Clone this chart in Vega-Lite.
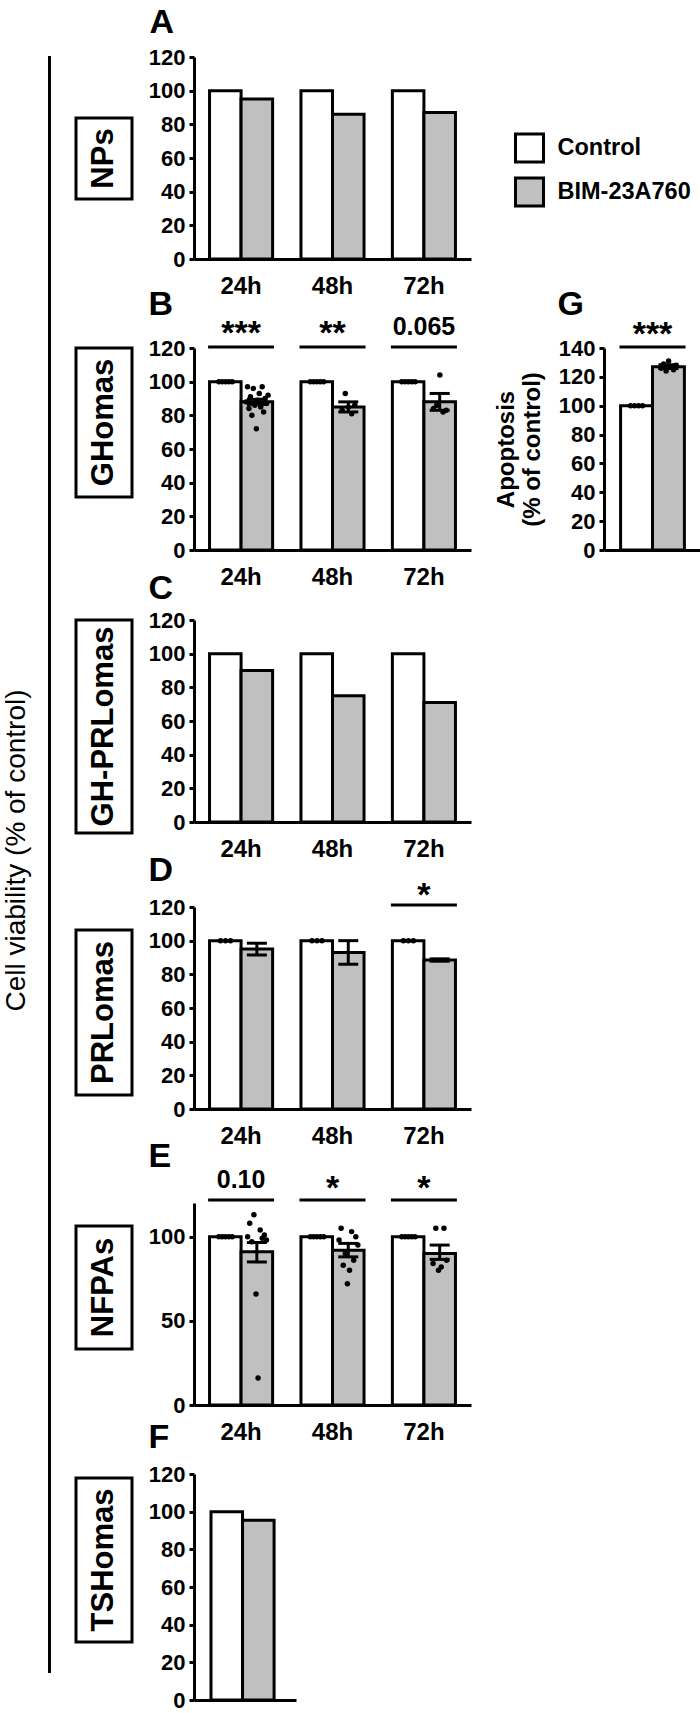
{
  "$schema": "https://vega.github.io/schema/vega-lite/v6.json",
  "padding": {"left": 1, "top": 5, "right": 0, "bottom": 0},
  "background": "white",
  "bounds": "flush",
  "spacing": 26,
  "config": {
    "font": "Liberation Sans",
    "view": {"stroke": null},
    "axis": {"domainColor": "black", "domainWidth": 3, "tickColor": "black", "tickWidth": 3, "tickSize": 5, "labelColor": "black", "labelFontWeight": "bold", "labelFontSize": 22, "grid": false, "titleColor": "black", "labelOverlap": false},
    "axisX": {"ticks": false, "labelFontSize": 24, "labelPadding": 15, "labelAngle": 0, "titleAngle": 0, "titleAlign": "left", "titleBaseline": "alphabetic", "titleFontSize": 34, "titleFontWeight": "bold"},
    "axisY": {"labelPadding": 4},
    "text": {"color": "black"}
  },
  "datasets": {
    "errB": [{"time": "24h", "group": "BIM-23A760", "lo": 86.5, "hi": 89.5}, {"time": "48h", "group": "BIM-23A760", "lo": 82, "hi": 88}, {"time": "72h", "group": "BIM-23A760", "lo": 83, "hi": 93}],
    "errD": [{"time": "24h", "group": "BIM-23A760", "lo": 91.5, "hi": 98.5}, {"time": "48h", "group": "BIM-23A760", "lo": 86, "hi": 100}, {"time": "72h", "group": "BIM-23A760", "lo": 87.8, "hi": 89.2}],
    "errE": [{"time": "24h", "group": "BIM-23A760", "lo": 85, "hi": 96.5}, {"time": "48h", "group": "BIM-23A760", "lo": 88, "hi": 96}, {"time": "72h", "group": "BIM-23A760", "lo": 86.5, "hi": 95}],
    "errG": [{"cat": "G", "group": "BIM-23A760", "lo": 125.8, "hi": 128.4}],
    "one": [{"v": 0}]
  },
  "hconcat": [
    {"width": 1, "height": 1615, "view": {"stroke": "black", "strokeWidth": 2}, "data": {"name": "one"}, "mark": {"type": "point", "opacity": 0},
     "encoding": {"y": {"field": "v", "type": "quantitative", "scale": {"domain": [0, 1]}, "axis": {"title": "Cell viability (% of control)", "labels": false, "ticks": false, "domain": false, "grid": false, "titleFontSize": 28, "titleFontWeight": "normal", "titlePadding": 19, "titleY": 793}}}},
    {
      "bounds": "flush", "columns": 4, "align": "each", "spacing": {"row": 0, "column": 43},
      "concat": [
        {"width": 75, "height": 202, "data": {"values": [{"t": "NPs"}]},
         "encoding": {"x": {"field": "t", "type": "nominal", "scale": {"type": "band", "paddingInner": 0, "paddingOuter": 0.1696, "align": 0}, "axis": null},
                      "y": {"field": "t", "type": "nominal", "scale": {"type": "band", "paddingInner": 0, "paddingOuter": 0.7469, "align": 0.5041}, "axis": null}},
         "layer": [{"mark": {"type": "rect", "fill": "white", "stroke": "black", "strokeWidth": 3}},
                   {"mark": {"type": "text", "angle": 270, "fontSize": 31, "fontWeight": "bold", "baseline": "middle"}, "encoding": {"text": {"field": "t"}}}]},
        {
          "width": 277, "height": 202,
          "data": {"values": [{"time": "24h", "group": "Control", "value": 100}, {"time": "24h", "group": "BIM-23A760", "value": 95}, {"time": "48h", "group": "Control", "value": 100}, {"time": "48h", "group": "BIM-23A760", "value": 86}, {"time": "72h", "group": "Control", "value": 100}, {"time": "72h", "group": "BIM-23A760", "value": 87}]},
          "mark": {"type": "bar", "stroke": "black", "strokeWidth": 3},
          "encoding": {
            "x": {"field": "time", "type": "nominal", "scale": {"domain": ["24h", "48h", "72h"], "paddingInner": 0.31, "paddingOuter": 0.17}, "axis": {"title": "A", "titleX": -45, "titleY": -227}},
            "xOffset": {"field": "group", "type": "nominal", "scale": {"domain": ["Control", "BIM-23A760"]}},
            "y": {"field": "value", "type": "quantitative", "scale": {"domain": [0, 120], "nice": false}, "axis": {"title": null, "values": [0, 20, 40, 60, 80, 100, 120]}},
            "fill": {"field": "group", "type": "nominal", "scale": {"domain": ["Control", "BIM-23A760"], "range": ["#ffffff", "#c0c0c0"]}, "legend": null}
          }
        },
        {"width": 31, "height": 176,
         "data": {"values": [{"group": "Control"}, {"group": "BIM-23A760"}]},
         "mark": {"type": "point", "shape": "square", "size": 784, "filled": true, "stroke": "black", "strokeWidth": 3, "opacity": 1, "fillOpacity": 1},
         "encoding": {
           "y": {"field": "group", "type": "nominal", "sort": ["Control", "BIM-23A760"], "scale": {"type": "band", "paddingInner": 0, "paddingOuter": 1, "align": 0.784}, "axis": {"orient": "right", "title": null, "domain": false, "ticks": false, "labelFontSize": 23.5, "labelPadding": 12}},
           "fill": {"field": "group", "type": "nominal", "scale": {"domain": ["Control", "BIM-23A760"], "range": ["#ffffff", "#c0c0c0"]}, "legend": null}
         }},
        {"width": 1, "height": 1, "data": {"name": "one"}, "mark": {"type": "point", "opacity": 0}},

        {"width": 1, "height": 89, "data": {"name": "one"}, "mark": {"type": "point", "opacity": 0}},
        {"width": 1, "height": 1, "data": {"name": "one"}, "mark": {"type": "point", "opacity": 0}},
        {"width": 1, "height": 1, "data": {"name": "one"}, "mark": {"type": "point", "opacity": 0}},
        {"width": 1, "height": 1, "data": {"name": "one"}, "mark": {"type": "point", "opacity": 0}},

        {"width": 75, "height": 202, "data": {"values": [{"t": "GHomas"}]},
         "encoding": {"x": {"field": "t", "type": "nominal", "scale": {"type": "band", "paddingInner": 0, "paddingOuter": 0.1696, "align": 0}, "axis": null},
                      "y": {"field": "t", "type": "nominal", "scale": {"type": "band", "paddingInner": 0, "paddingOuter": 0.1779, "align": 0}, "axis": null}},
         "layer": [{"mark": {"type": "rect", "fill": "white", "stroke": "black", "strokeWidth": 3}},
                   {"mark": {"type": "text", "angle": 270, "fontSize": 31, "fontWeight": "bold", "baseline": "middle"}, "encoding": {"text": {"field": "t"}}}]},
        {
          "width": 277, "height": 202,
          "layer": [
            {"data": {"values": [{"time": "24h", "group": "Control", "value": 100}, {"time": "24h", "group": "BIM-23A760", "value": 88}, {"time": "48h", "group": "Control", "value": 100}, {"time": "48h", "group": "BIM-23A760", "value": 85}, {"time": "72h", "group": "Control", "value": 100}, {"time": "72h", "group": "BIM-23A760", "value": 88}]},
             "mark": {"type": "bar", "stroke": "black", "strokeWidth": 3},
             "encoding": {
               "x": {"field": "time", "type": "nominal", "scale": {"domain": ["24h", "48h", "72h"], "paddingInner": 0.31, "paddingOuter": 0.17}, "axis": {"title": "B", "titleX": -46, "titleY": -236}},
               "xOffset": {"field": "group", "type": "nominal", "scale": {"domain": ["Control", "BIM-23A760"]}},
               "y": {"field": "value", "type": "quantitative", "scale": {"domain": [0, 120], "nice": false}, "axis": {"title": null, "values": [0, 20, 40, 60, 80, 100, 120], "labelOverlap": false, "tickCount": 7}},
               "fill": {"field": "group", "type": "nominal", "scale": {"domain": ["Control", "BIM-23A760"], "range": ["#ffffff", "#c0c0c0"]}, "legend": null}
             }},
            {"data": {"values": [{"time": "24h", "label": "***"}, {"time": "48h", "label": "**"}]},
             "mark": {"type": "text", "fontSize": 34, "fontWeight": "bold", "baseline": "alphabetic"},
             "encoding": {"x": {"field": "time", "type": "nominal"}, "y": {"datum": 122.4}, "text": {"field": "label"}}},
            {"data": {"values": [{"time": "72h", "label": "0.065"}]},
             "mark": {"type": "text", "fontSize": 25, "fontWeight": "bold", "baseline": "alphabetic"},
             "encoding": {"x": {"field": "time", "type": "nominal"}, "y": {"datum": 127.8}, "text": {"field": "label"}}},
            {"data": {"values": [{"time": "24h"}, {"time": "48h"}, {"time": "72h"}]},
             "mark": {"type": "tick", "orient": "horizontal", "size": 66, "thickness": 3, "color": "black", "opacity": 1},
             "encoding": {"x": {"field": "time", "type": "nominal"}, "y": {"datum": 120.6}}},
            {"data": {"values": [{"time": "24h", "rep": 1, "value": 100}, {"time": "24h", "rep": 2, "value": 100}, {"time": "24h", "rep": 3, "value": 100}, {"time": "24h", "rep": 4, "value": 100}, {"time": "24h", "rep": 5, "value": 100}, {"time": "48h", "rep": 1, "value": 100}, {"time": "48h", "rep": 2, "value": 100}, {"time": "48h", "rep": 3, "value": 100}, {"time": "48h", "rep": 4, "value": 100}, {"time": "48h", "rep": 5, "value": 100}, {"time": "72h", "rep": 1, "value": 100}, {"time": "72h", "rep": 2, "value": 100}, {"time": "72h", "rep": 3, "value": 100}, {"time": "72h", "rep": 4, "value": 100}, {"time": "72h", "rep": 5, "value": 100}]},
             "mark": {"type": "circle", "size": 30, "color": "black", "opacity": 1},
             "encoding": {"x": {"field": "time", "type": "nominal"}, "xOffset": {"field": "rep", "type": "quantitative", "scale": {"domain": [0, 6], "range": [6, 26], "zero": false, "nice": false}}, "y": {"field": "value", "type": "quantitative"}}},
            {"data": {"values": [{"time": "24h", "rep": 1, "value": 88}, {"time": "24h", "rep": 2, "value": 97}, {"time": "24h", "rep": 3, "value": 84}, {"time": "24h", "rep": 4, "value": 91}, {"time": "24h", "rep": 5, "value": 80}, {"time": "24h", "rep": 6, "value": 96}, {"time": "24h", "rep": 7, "value": 86}, {"time": "24h", "rep": 8, "value": 72}, {"time": "24h", "rep": 9, "value": 89}, {"time": "24h", "rep": 10, "value": 93}, {"time": "24h", "rep": 11, "value": 85}, {"time": "24h", "rep": 12, "value": 97}, {"time": "24h", "rep": 13, "value": 82}, {"time": "24h", "rep": 14, "value": 90}, {"time": "24h", "rep": 15, "value": 87}, {"time": "24h", "rep": 16, "value": 92}]},
             "mark": {"type": "circle", "size": 30, "color": "black", "opacity": 1},
             "encoding": {"x": {"field": "time", "type": "nominal"}, "xOffset": {"field": "rep", "type": "quantitative", "scale": {"domain": [0, 17], "range": [35, 60], "zero": false, "nice": false}}, "y": {"field": "value", "type": "quantitative"}}},
            {"data": {"values": [{"time": "48h", "rep": 1, "value": 83}, {"time": "48h", "rep": 2, "value": 93}, {"time": "48h", "rep": 3, "value": 85}, {"time": "48h", "rep": 4, "value": 81}, {"time": "48h", "rep": 5, "value": 86}, {"time": "72h", "rep": 1, "value": 84}, {"time": "72h", "rep": 2, "value": 86}, {"time": "72h", "rep": 3, "value": 104}, {"time": "72h", "rep": 4, "value": 82}, {"time": "72h", "rep": 5, "value": 83}]},
             "mark": {"type": "circle", "size": 30, "color": "black", "opacity": 1},
             "encoding": {"x": {"field": "time", "type": "nominal"}, "xOffset": {"field": "rep", "type": "quantitative", "scale": {"domain": [0, 6], "range": [38, 57], "zero": false, "nice": false}}, "y": {"field": "value", "type": "quantitative"}}},
            {"data": {"name": "errB"}, "mark": {"type": "rule", "strokeWidth": 3, "color": "black"},
             "encoding": {"x": {"field": "time", "type": "nominal"}, "xOffset": {"field": "group", "type": "nominal", "scale": {"domain": ["Control", "BIM-23A760"]}}, "y": {"field": "lo", "type": "quantitative"}, "y2": {"field": "hi"}}},
            {"data": {"name": "errB"}, "mark": {"type": "tick", "orient": "horizontal", "size": 20, "thickness": 3, "color": "black", "opacity": 1},
             "encoding": {"x": {"field": "time", "type": "nominal"}, "xOffset": {"field": "group", "type": "nominal", "scale": {"domain": ["Control", "BIM-23A760"]}}, "y": {"field": "lo", "type": "quantitative"}}},
            {"data": {"name": "errB"}, "mark": {"type": "tick", "orient": "horizontal", "size": 20, "thickness": 3, "color": "black", "opacity": 1},
             "encoding": {"x": {"field": "time", "type": "nominal"}, "xOffset": {"field": "group", "type": "nominal", "scale": {"domain": ["Control", "BIM-23A760"]}}, "y": {"field": "hi", "type": "quantitative"}}}
          ],
          "resolve": {"scale": {"xOffset": "independent"}}
        },
        {"width": 47, "height": 1, "data": {"name": "one"}, "mark": {"type": "point", "opacity": 0}},
        {
          "width": 97, "height": 202,
          "layer": [
            {"data": {"values": [{"cat": "G", "group": "Control", "value": 100}, {"cat": "G", "group": "BIM-23A760", "value": 127}]},
             "mark": {"type": "bar", "stroke": "black", "strokeWidth": 3},
             "encoding": {
               "x": {"field": "cat", "type": "nominal", "scale": {"paddingInner": 0, "paddingOuter": 0.26}, "axis": {"labels": false, "title": "G", "titleX": -47, "titleY": -236}},
               "xOffset": {"field": "group", "type": "nominal", "scale": {"domain": ["Control", "BIM-23A760"]}},
               "y": {"field": "value", "type": "quantitative", "scale": {"domain": [0, 140], "nice": false}, "axis": {"values": [0, 20, 40, 60, 80, 100, 120, 140], "labelOverlap": false, "tickCount": 8, "title": ["Apoptosis", "(% of control)"], "titleFontSize": 24, "titleFontWeight": "bold", "titlePadding": 14}},
               "fill": {"field": "group", "type": "nominal", "scale": {"domain": ["Control", "BIM-23A760"], "range": ["#ffffff", "#c0c0c0"]}, "legend": null}
             }},
            {"data": {"values": [{"cat": "G", "label": "***"}]},
             "mark": {"type": "text", "fontSize": 34, "fontWeight": "bold", "baseline": "alphabetic"},
             "encoding": {"x": {"field": "cat", "type": "nominal"}, "y": {"datum": 142.1}, "text": {"field": "label"}}},
            {"data": {"values": [{"cat": "G"}]},
             "mark": {"type": "tick", "orient": "horizontal", "size": 66, "thickness": 3, "color": "black", "opacity": 1},
             "encoding": {"x": {"field": "cat", "type": "nominal"}, "y": {"datum": 140.7}}},
            {"data": {"values": [{"cat": "G", "rep": 1, "value": 100}, {"cat": "G", "rep": 2, "value": 100}, {"cat": "G", "rep": 3, "value": 100}, {"cat": "G", "rep": 4, "value": 100}]},
             "mark": {"type": "circle", "size": 30, "color": "black", "opacity": 1},
             "encoding": {"x": {"field": "cat", "type": "nominal"}, "xOffset": {"field": "rep", "type": "quantitative", "scale": {"domain": [0, 5], "range": [6, 26], "zero": false, "nice": false}}, "y": {"field": "value", "type": "quantitative"}}},
            {"data": {"values": [{"cat": "G", "rep": 1, "value": 126}, {"cat": "G", "rep": 2, "value": 129}, {"cat": "G", "rep": 3, "value": 124}, {"cat": "G", "rep": 4, "value": 131}, {"cat": "G", "rep": 5, "value": 127}, {"cat": "G", "rep": 6, "value": 125}, {"cat": "G", "rep": 7, "value": 128}]},
             "mark": {"type": "circle", "size": 30, "color": "black", "opacity": 1},
             "encoding": {"x": {"field": "cat", "type": "nominal"}, "xOffset": {"field": "rep", "type": "quantitative", "scale": {"domain": [0, 8], "range": [38, 58], "zero": false, "nice": false}}, "y": {"field": "value", "type": "quantitative"}}},
            {"data": {"name": "errG"}, "mark": {"type": "rule", "strokeWidth": 3, "color": "black"},
             "encoding": {"x": {"field": "cat", "type": "nominal"}, "xOffset": {"field": "group", "type": "nominal", "scale": {"domain": ["Control", "BIM-23A760"]}}, "y": {"field": "lo", "type": "quantitative"}, "y2": {"field": "hi"}}},
            {"data": {"name": "errG"}, "mark": {"type": "tick", "orient": "horizontal", "size": 20, "thickness": 3, "color": "black", "opacity": 1},
             "encoding": {"x": {"field": "cat", "type": "nominal"}, "xOffset": {"field": "group", "type": "nominal", "scale": {"domain": ["Control", "BIM-23A760"]}}, "y": {"field": "lo", "type": "quantitative"}}},
            {"data": {"name": "errG"}, "mark": {"type": "tick", "orient": "horizontal", "size": 20, "thickness": 3, "color": "black", "opacity": 1},
             "encoding": {"x": {"field": "cat", "type": "nominal"}, "xOffset": {"field": "group", "type": "nominal", "scale": {"domain": ["Control", "BIM-23A760"]}}, "y": {"field": "hi", "type": "quantitative"}}}
          ],
          "resolve": {"scale": {"xOffset": "independent"}}
        },

        {"width": 1, "height": 70, "data": {"name": "one"}, "mark": {"type": "point", "opacity": 0}},
        {"width": 1, "height": 1, "data": {"name": "one"}, "mark": {"type": "point", "opacity": 0}},
        {"width": 1, "height": 1, "data": {"name": "one"}, "mark": {"type": "point", "opacity": 0}},
        {"width": 1, "height": 1, "data": {"name": "one"}, "mark": {"type": "point", "opacity": 0}},

        {"width": 75, "height": 213, "data": {"values": [{"t": "GH-PRLomas"}]},
         "encoding": {"x": {"field": "t", "type": "nominal", "scale": {"type": "band", "paddingInner": 0, "paddingOuter": 0.1696, "align": 0}, "axis": null},
                      "y": {"field": "t", "type": "nominal", "scale": {"type": "band", "paddingInner": 0, "paddingOuter": 0, "align": 0}, "axis": null}},
         "layer": [{"mark": {"type": "rect", "fill": "white", "stroke": "black", "strokeWidth": 3}},
                   {"mark": {"type": "text", "angle": 270, "fontSize": 31, "fontWeight": "bold", "baseline": "middle"}, "encoding": {"text": {"field": "t"}}}]},
        {
          "width": 277, "height": 202,
          "data": {"values": [{"time": "24h", "group": "Control", "value": 100}, {"time": "24h", "group": "BIM-23A760", "value": 90}, {"time": "48h", "group": "Control", "value": 100}, {"time": "48h", "group": "BIM-23A760", "value": 75}, {"time": "72h", "group": "Control", "value": 100}, {"time": "72h", "group": "BIM-23A760", "value": 71}]},
          "mark": {"type": "bar", "stroke": "black", "strokeWidth": 3},
          "encoding": {
            "x": {"field": "time", "type": "nominal", "scale": {"domain": ["24h", "48h", "72h"], "paddingInner": 0.31, "paddingOuter": 0.17}, "axis": {"title": "C", "titleX": -46, "titleY": -224}},
            "xOffset": {"field": "group", "type": "nominal", "scale": {"domain": ["Control", "BIM-23A760"]}},
            "y": {"field": "value", "type": "quantitative", "scale": {"domain": [0, 120], "nice": false}, "axis": {"title": null, "values": [0, 20, 40, 60, 80, 100, 120]}},
            "fill": {"field": "group", "type": "nominal", "scale": {"domain": ["Control", "BIM-23A760"], "range": ["#ffffff", "#c0c0c0"]}, "legend": null}
          }
        },
        {"width": 1, "height": 1, "data": {"name": "one"}, "mark": {"type": "point", "opacity": 0}},
        {"width": 1, "height": 1, "data": {"name": "one"}, "mark": {"type": "point", "opacity": 0}},

        {"width": 1, "height": 74, "data": {"name": "one"}, "mark": {"type": "point", "opacity": 0}},
        {"width": 1, "height": 1, "data": {"name": "one"}, "mark": {"type": "point", "opacity": 0}},
        {"width": 1, "height": 1, "data": {"name": "one"}, "mark": {"type": "point", "opacity": 0}},
        {"width": 1, "height": 1, "data": {"name": "one"}, "mark": {"type": "point", "opacity": 0}},

        {"width": 75, "height": 202, "data": {"values": [{"t": "PRLomas"}]},
         "encoding": {"x": {"field": "t", "type": "nominal", "scale": {"type": "band", "paddingInner": 0, "paddingOuter": 0.1696, "align": 0}, "axis": null},
                      "y": {"field": "t", "type": "nominal", "scale": {"type": "band", "paddingInner": 0, "paddingOuter": 0.1121, "align": 0.6216}, "axis": null}},
         "layer": [{"mark": {"type": "rect", "fill": "white", "stroke": "black", "strokeWidth": 3}},
                   {"mark": {"type": "text", "angle": 270, "fontSize": 31, "fontWeight": "bold", "baseline": "middle"}, "encoding": {"text": {"field": "t"}}}]},
        {
          "width": 277, "height": 202,
          "layer": [
            {"data": {"values": [{"time": "24h", "group": "Control", "value": 100}, {"time": "24h", "group": "BIM-23A760", "value": 95}, {"time": "48h", "group": "Control", "value": 100}, {"time": "48h", "group": "BIM-23A760", "value": 93}, {"time": "72h", "group": "Control", "value": 100}, {"time": "72h", "group": "BIM-23A760", "value": 88.5}]},
             "mark": {"type": "bar", "stroke": "black", "strokeWidth": 3},
             "encoding": {
               "x": {"field": "time", "type": "nominal", "scale": {"domain": ["24h", "48h", "72h"], "paddingInner": 0.31, "paddingOuter": 0.17}, "axis": {"title": "D", "titleX": -46, "titleY": -229}},
               "xOffset": {"field": "group", "type": "nominal", "scale": {"domain": ["Control", "BIM-23A760"]}},
               "y": {"field": "value", "type": "quantitative", "scale": {"domain": [0, 120], "nice": false}, "axis": {"title": null, "values": [0, 20, 40, 60, 80, 100, 120], "labelOverlap": false, "tickCount": 7}},
               "fill": {"field": "group", "type": "nominal", "scale": {"domain": ["Control", "BIM-23A760"], "range": ["#ffffff", "#c0c0c0"]}, "legend": null}
             }},
            {"data": {"values": [{"time": "72h", "label": "*"}]},
             "mark": {"type": "text", "fontSize": 34, "fontWeight": "bold", "baseline": "alphabetic"},
             "encoding": {"x": {"field": "time", "type": "nominal"}, "y": {"datum": 120.6}, "text": {"field": "label"}}},
            {"data": {"values": [{"time": "72h"}]},
             "mark": {"type": "tick", "orient": "horizontal", "size": 66, "thickness": 3, "color": "black", "opacity": 1},
             "encoding": {"x": {"field": "time", "type": "nominal"}, "y": {"datum": 121.2}}},
            {"data": {"values": [{"time": "24h", "rep": 1, "value": 100}, {"time": "24h", "rep": 2, "value": 100}, {"time": "24h", "rep": 3, "value": 100}, {"time": "48h", "rep": 1, "value": 100}, {"time": "48h", "rep": 2, "value": 100}, {"time": "48h", "rep": 3, "value": 100}, {"time": "72h", "rep": 1, "value": 100}, {"time": "72h", "rep": 2, "value": 100}, {"time": "72h", "rep": 3, "value": 100}]},
             "mark": {"type": "circle", "size": 30, "color": "black", "opacity": 1},
             "encoding": {"x": {"field": "time", "type": "nominal"}, "xOffset": {"field": "rep", "type": "quantitative", "scale": {"domain": [0, 4], "range": [6, 26], "zero": false, "nice": false}}, "y": {"field": "value", "type": "quantitative"}}},
            {"data": {"name": "errD"}, "mark": {"type": "rule", "strokeWidth": 3, "color": "black"},
             "encoding": {"x": {"field": "time", "type": "nominal"}, "xOffset": {"field": "group", "type": "nominal", "scale": {"domain": ["Control", "BIM-23A760"]}}, "y": {"field": "lo", "type": "quantitative"}, "y2": {"field": "hi"}}},
            {"data": {"name": "errD"}, "mark": {"type": "tick", "orient": "horizontal", "size": 20, "thickness": 3, "color": "black", "opacity": 1},
             "encoding": {"x": {"field": "time", "type": "nominal"}, "xOffset": {"field": "group", "type": "nominal", "scale": {"domain": ["Control", "BIM-23A760"]}}, "y": {"field": "lo", "type": "quantitative"}}},
            {"data": {"name": "errD"}, "mark": {"type": "tick", "orient": "horizontal", "size": 20, "thickness": 3, "color": "black", "opacity": 1},
             "encoding": {"x": {"field": "time", "type": "nominal"}, "xOffset": {"field": "group", "type": "nominal", "scale": {"domain": ["Control", "BIM-23A760"]}}, "y": {"field": "hi", "type": "quantitative"}}}
          ],
          "resolve": {"scale": {"xOffset": "independent"}}
        },
        {"width": 1, "height": 1, "data": {"name": "one"}, "mark": {"type": "point", "opacity": 0}},
        {"width": 1, "height": 1, "data": {"name": "one"}, "mark": {"type": "point", "opacity": 0}},

        {"width": 1, "height": 94, "data": {"name": "one"}, "mark": {"type": "point", "opacity": 0}},
        {"width": 1, "height": 1, "data": {"name": "one"}, "mark": {"type": "point", "opacity": 0}},
        {"width": 1, "height": 1, "data": {"name": "one"}, "mark": {"type": "point", "opacity": 0}},
        {"width": 1, "height": 1, "data": {"name": "one"}, "mark": {"type": "point", "opacity": 0}},

        {"width": 75, "height": 202, "data": {"values": [{"t": "NFPAs"}]},
         "encoding": {"x": {"field": "t", "type": "nominal", "scale": {"type": "band", "paddingInner": 0, "paddingOuter": 0.1696, "align": 0}, "axis": null},
                      "y": {"field": "t", "type": "nominal", "scale": {"type": "band", "paddingInner": 0, "paddingOuter": 0.3211, "align": 0.2911}, "axis": null}},
         "layer": [{"mark": {"type": "rect", "fill": "white", "stroke": "black", "strokeWidth": 3}},
                   {"mark": {"type": "text", "angle": 270, "fontSize": 31, "fontWeight": "bold", "baseline": "middle"}, "encoding": {"text": {"field": "t"}}}]},
        {
          "width": 277, "height": 202,
          "layer": [
            {"data": {"values": [{"time": "24h", "group": "Control", "value": 100}, {"time": "24h", "group": "BIM-23A760", "value": 91}, {"time": "48h", "group": "Control", "value": 100}, {"time": "48h", "group": "BIM-23A760", "value": 92}, {"time": "72h", "group": "Control", "value": 100}, {"time": "72h", "group": "BIM-23A760", "value": 90}]},
             "mark": {"type": "bar", "stroke": "black", "strokeWidth": 3},
             "encoding": {
               "x": {"field": "time", "type": "nominal", "scale": {"domain": ["24h", "48h", "72h"], "paddingInner": 0.31, "paddingOuter": 0.17}, "axis": {"title": "E", "titleX": -46, "titleY": -239}},
               "xOffset": {"field": "group", "type": "nominal", "scale": {"domain": ["Control", "BIM-23A760"]}},
               "y": {"field": "value", "type": "quantitative", "scale": {"domain": [0, 120], "nice": false}, "axis": {"title": null, "values": [0, 50, 100], "labelOverlap": false}},
               "fill": {"field": "group", "type": "nominal", "scale": {"domain": ["Control", "BIM-23A760"], "range": ["#ffffff", "#c0c0c0"]}, "legend": null}
             }},
            {"data": {"values": [{"time": "24h", "label": "0.10"}]},
             "mark": {"type": "text", "fontSize": 25, "fontWeight": "bold", "baseline": "alphabetic"},
             "encoding": {"x": {"field": "time", "type": "nominal"}, "y": {"datum": 129}, "text": {"field": "label"}}},
            {"data": {"values": [{"time": "48h", "label": "*"}, {"time": "72h", "label": "*"}]},
             "mark": {"type": "text", "fontSize": 34, "fontWeight": "bold", "baseline": "alphabetic"},
             "encoding": {"x": {"field": "time", "type": "nominal"}, "y": {"datum": 122.4}, "text": {"field": "label"}}},
            {"data": {"values": [{"time": "24h"}, {"time": "48h"}, {"time": "72h"}]},
             "mark": {"type": "tick", "orient": "horizontal", "size": 66, "thickness": 3, "color": "black", "opacity": 1},
             "encoding": {"x": {"field": "time", "type": "nominal"}, "y": {"datum": 121.8}}},
            {"data": {"values": [{"time": "24h", "rep": 1, "value": 100}, {"time": "24h", "rep": 2, "value": 100}, {"time": "24h", "rep": 3, "value": 100}, {"time": "24h", "rep": 4, "value": 100}, {"time": "24h", "rep": 5, "value": 100}, {"time": "48h", "rep": 1, "value": 100}, {"time": "48h", "rep": 2, "value": 100}, {"time": "48h", "rep": 3, "value": 100}, {"time": "48h", "rep": 4, "value": 100}, {"time": "48h", "rep": 5, "value": 100}, {"time": "72h", "rep": 1, "value": 100}, {"time": "72h", "rep": 2, "value": 100}, {"time": "72h", "rep": 3, "value": 100}, {"time": "72h", "rep": 4, "value": 100}, {"time": "72h", "rep": 5, "value": 100}]},
             "mark": {"type": "circle", "size": 30, "color": "black", "opacity": 1},
             "encoding": {"x": {"field": "time", "type": "nominal"}, "xOffset": {"field": "rep", "type": "quantitative", "scale": {"domain": [0, 6], "range": [6, 26], "zero": false, "nice": false}}, "y": {"field": "value", "type": "quantitative"}}},
            {"data": {"values": [{"time": "24h", "rep": 1, "value": 100}, {"time": "24h", "rep": 2, "value": 108}, {"time": "24h", "rep": 3, "value": 97}, {"time": "24h", "rep": 4, "value": 113}, {"time": "24h", "rep": 5, "value": 66}, {"time": "24h", "rep": 6, "value": 16}, {"time": "24h", "rep": 7, "value": 104}, {"time": "24h", "rep": 8, "value": 99}, {"time": "24h", "rep": 9, "value": 101}, {"time": "24h", "rep": 10, "value": 98}, {"time": "48h", "rep": 1, "value": 98}, {"time": "48h", "rep": 2, "value": 105}, {"time": "48h", "rep": 3, "value": 83}, {"time": "48h", "rep": 4, "value": 90}, {"time": "48h", "rep": 5, "value": 72}, {"time": "48h", "rep": 6, "value": 80}, {"time": "48h", "rep": 7, "value": 103}, {"time": "48h", "rep": 8, "value": 86}, {"time": "48h", "rep": 9, "value": 100}, {"time": "48h", "rep": 10, "value": 95}]},
             "mark": {"type": "circle", "size": 30, "color": "black", "opacity": 1},
             "encoding": {"x": {"field": "time", "type": "nominal"}, "xOffset": {"field": "rep", "type": "quantitative", "scale": {"domain": [0, 11], "range": [36, 59], "zero": false, "nice": false}}, "y": {"field": "value", "type": "quantitative"}}},
            {"data": {"values": [{"time": "72h", "rep": 1, "value": 84}, {"time": "72h", "rep": 2, "value": 105}, {"time": "72h", "rep": 3, "value": 80}, {"time": "72h", "rep": 4, "value": 82}, {"time": "72h", "rep": 5, "value": 105}, {"time": "72h", "rep": 6, "value": 86}]},
             "mark": {"type": "circle", "size": 30, "color": "black", "opacity": 1},
             "encoding": {"x": {"field": "time", "type": "nominal"}, "xOffset": {"field": "rep", "type": "quantitative", "scale": {"domain": [0, 7], "range": [38, 57], "zero": false, "nice": false}}, "y": {"field": "value", "type": "quantitative"}}},
            {"data": {"name": "errE"}, "mark": {"type": "rule", "strokeWidth": 3, "color": "black"},
             "encoding": {"x": {"field": "time", "type": "nominal"}, "xOffset": {"field": "group", "type": "nominal", "scale": {"domain": ["Control", "BIM-23A760"]}}, "y": {"field": "lo", "type": "quantitative"}, "y2": {"field": "hi"}}},
            {"data": {"name": "errE"}, "mark": {"type": "tick", "orient": "horizontal", "size": 20, "thickness": 3, "color": "black", "opacity": 1},
             "encoding": {"x": {"field": "time", "type": "nominal"}, "xOffset": {"field": "group", "type": "nominal", "scale": {"domain": ["Control", "BIM-23A760"]}}, "y": {"field": "lo", "type": "quantitative"}}},
            {"data": {"name": "errE"}, "mark": {"type": "tick", "orient": "horizontal", "size": 20, "thickness": 3, "color": "black", "opacity": 1},
             "encoding": {"x": {"field": "time", "type": "nominal"}, "xOffset": {"field": "group", "type": "nominal", "scale": {"domain": ["Control", "BIM-23A760"]}}, "y": {"field": "hi", "type": "quantitative"}}}
          ],
          "resolve": {"scale": {"xOffset": "independent"}}
        },
        {"width": 1, "height": 1, "data": {"name": "one"}, "mark": {"type": "point", "opacity": 0}},
        {"width": 1, "height": 1, "data": {"name": "one"}, "mark": {"type": "point", "opacity": 0}},

        {"width": 1, "height": 69, "data": {"name": "one"}, "mark": {"type": "point", "opacity": 0}},
        {"width": 1, "height": 1, "data": {"name": "one"}, "mark": {"type": "point", "opacity": 0}},
        {"width": 1, "height": 1, "data": {"name": "one"}, "mark": {"type": "point", "opacity": 0}},
        {"width": 1, "height": 1, "data": {"name": "one"}, "mark": {"type": "point", "opacity": 0}},

        {"width": 75, "height": 226, "data": {"values": [{"t": "TSHomas"}]},
         "encoding": {"x": {"field": "t", "type": "nominal", "scale": {"type": "band", "paddingInner": 0, "paddingOuter": 0.1696, "align": 0}, "axis": null},
                      "y": {"field": "t", "type": "nominal", "scale": {"type": "band", "paddingInner": 0, "paddingOuter": 0.189, "align": 0.0645}, "axis": null}},
         "layer": [{"mark": {"type": "rect", "fill": "white", "stroke": "black", "strokeWidth": 3}},
                   {"mark": {"type": "text", "angle": 270, "fontSize": 31, "fontWeight": "bold", "baseline": "middle"}, "encoding": {"text": {"field": "t"}}}]},
        {
          "width": 102, "height": 226,
          "data": {"values": [{"time": "24h", "group": "Control", "value": 100}, {"time": "24h", "group": "BIM-23A760", "value": 95.5}]},
          "mark": {"type": "bar", "stroke": "black", "strokeWidth": 3},
          "encoding": {
            "x": {"field": "time", "type": "nominal", "scale": {"domain": ["24h"], "paddingInner": 0, "paddingOuter": 0.25}, "axis": {"labels": false, "title": "F", "titleX": -46, "titleY": -253}},
            "xOffset": {"field": "group", "type": "nominal", "scale": {"domain": ["Control", "BIM-23A760"]}},
            "y": {"field": "value", "type": "quantitative", "scale": {"domain": [0, 120], "nice": false}, "axis": {"title": null, "values": [0, 20, 40, 60, 80, 100, 120]}},
            "fill": {"field": "group", "type": "nominal", "scale": {"domain": ["Control", "BIM-23A760"], "range": ["#ffffff", "#c0c0c0"]}, "legend": null}
          }
        },
        {"width": 1, "height": 1, "data": {"name": "one"}, "mark": {"type": "point", "opacity": 0}},
        {"width": 1, "height": 1, "data": {"name": "one"}, "mark": {"type": "point", "opacity": 0}}
      ]
    }
  ]
}
